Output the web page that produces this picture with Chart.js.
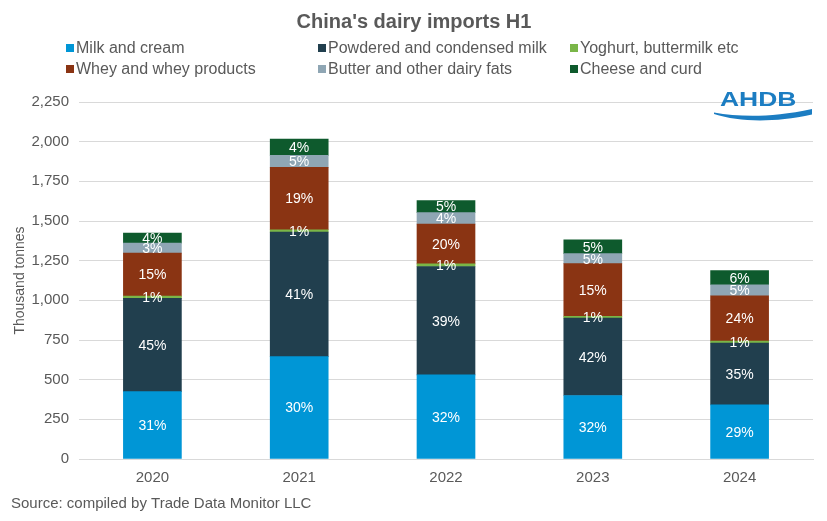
<!DOCTYPE html>
<html>
<head>
<meta charset="utf-8">
<script src="https://cdn.jsdelivr.net/npm/chart.js@4/dist/chart.umd.min.js"></script>
<style>
  html, body { margin: 0; padding: 0; background: #ffffff; }
  #wrap { width: 827px; height: 521px; position: relative; }
</style>
</head>
<body>
<div id="wrap"><canvas id="c" width="827" height="521"></canvas></div>
<script>
// ---- Data (thousand tonnes) ----
const years = ["2020", "2021", "2022", "2023", "2024"];
const milkCream      = [425, 645, 530, 400, 341];
const powderedMilk   = [587, 785, 683, 488, 389];
const yoghurt        = [15, 15, 17, 11, 13];
const whey           = [271, 393, 250, 332, 286];
const butter         = [63, 76, 73, 63, 69];
const cheese         = [63, 103, 76, 88, 90];

// ---- Percentage labels shown on the segments ----
const milkCreamPct    = ["31%", "30%", "32%", "32%", "29%"];
const powderedMilkPct = ["45%", "41%", "39%", "42%", "35%"];
const yoghurtPct      = ["1%", "1%", "1%", "1%", "1%"];
const wheyPct         = ["15%", "19%", "20%", "15%", "24%"];
const butterPct       = ["3%", "5%", "4%", "5%", "5%"];
const cheesePct       = ["4%", "4%", "5%", "5%", "6%"];

const yTicks = [0, 250, 500, 750, 1000, 1250, 1500, 1750, 2000, 2250];

const seriesNames = ["Milk and cream", "Powdered and condensed milk", "Yoghurt, buttermilk etc",
                     "Whey and whey products", "Butter and other dairy fats", "Cheese and curd"];
const seriesColors = ["#0096D6", "#213F4E", "#7AB648", "#8A3413", "#8FA6B4", "#0E5A2D"];
const seriesData = [milkCream, powderedMilk, yoghurt, whey, butter, cheese];
const seriesPct = [milkCreamPct, powderedMilkPct, yoghurtPct, wheyPct, butterPct, cheesePct];

const FONT = "'Liberation Sans', Arial, sans-serif";
const GREY = "#595959";

const datasets = seriesNames.map((name, i) => ({
  label: name,
  data: seriesData[i],
  pctLabels: seriesPct[i],
  backgroundColor: seriesColors[i],
  borderWidth: 0,
  barThickness: 58
}));

const decorPlugin = {
  id: 'decor',
  afterDatasetsDraw(chart) {
    const ctx = chart.ctx;
    ctx.save();
    ctx.font = "14px " + FONT;
    ctx.fillStyle = "#ffffff";
    ctx.textAlign = "center";
    ctx.textBaseline = "middle";
    chart.data.datasets.forEach((ds, di) => {
      const meta = chart.getDatasetMeta(di);
      meta.data.forEach((el, j) => {
        const cy = (el.y + el.base) / 2;
        ctx.fillText(ds.pctLabels[j], el.x, cy + 1);
      });
    });
    ctx.restore();
  },
  afterDraw(chart) {
    const ctx = chart.ctx;
    ctx.save();
    // Title
    ctx.fillStyle = GREY;
    ctx.font = "bold 20px " + FONT;
    ctx.textAlign = "center";
    ctx.textBaseline = "middle";
    ctx.fillText("China's dairy imports H1", 414, 22);

    // Legend
    const colX = [66, 318, 570];
    const rowY = [48, 69];
    ctx.font = "16px " + FONT;
    ctx.textAlign = "left";
    seriesNames.forEach((name, i) => {
      const cx = colX[i % 3];
      const cy = rowY[Math.floor(i / 3)];
      ctx.fillStyle = seriesColors[i];
      ctx.fillRect(cx, cy - 4, 8, 8);
      ctx.fillStyle = GREY;
      ctx.fillText(name, cx + 10, cy + 1);
    });

    // Source note
    ctx.font = "15px " + FONT;
    ctx.fillStyle = GREY;
    ctx.fillText("Source: compiled by Trade Data Monitor LLC", 11, 504);

    // AHDB logo
    const blue = "#1C7DC2";
    ctx.fillStyle = blue;
    ctx.save();
    ctx.translate(720, 105.5);
    ctx.scale(1.26, 1);
    ctx.font = "bold 21px " + FONT;
    ctx.textAlign = "left";
    ctx.textBaseline = "alphabetic";
    ctx.fillText("AHDB", 0, 0);
    ctx.restore();
    ctx.beginPath();
    ctx.moveTo(714, 112.5);
    ctx.bezierCurveTo(740, 117, 770, 118, 812, 109);
    ctx.lineTo(812, 114.5);
    ctx.bezierCurveTo(772, 123, 740, 122, 714, 114);
    ctx.closePath();
    ctx.fill();
    ctx.restore();
  }
};

new Chart(document.getElementById('c'), {
  type: 'bar',
  data: { labels: years, datasets },
  options: {
    responsive: false,
    animation: false,
    devicePixelRatio: 1,
    layout: { padding: { top: 102, right: 14, left: 0, bottom: 0 } },
    plugins: {
      legend: { display: false },
      title: { display: false },
      tooltip: { enabled: false }
    },
    scales: {
      x: {
        stacked: true,
        grid: { display: false, drawTicks: false },
        border: { color: "#d9d9d9", width: 1 },
        ticks: { color: GREY, font: { family: FONT, size: 15 }, padding: 10 },
        afterFit(scale) { scale.height = 62; }
      },
      y: {
        stacked: true,
        min: 0,
        max: 2250,
        afterBuildTicks(scale) { scale.ticks = yTicks.map(v => ({ value: v })); },
        grid: { color: "#d9d9d9", drawTicks: false },
        border: { display: false },
        ticks: {
          color: GREY,
          font: { family: FONT, size: 15 },
          padding: 10,
          callback: v => v.toLocaleString('en-US')
        },
        title: {
          display: true,
          text: "Thousand tonnes",
          color: GREY,
          font: { family: FONT, size: 14 },
          padding: { top: 12, bottom: 0 }
        },
        afterFit(scale) { scale.width = 79; }
      }
    }
  },
  plugins: [decorPlugin]
});
</script>
</body>
</html>
